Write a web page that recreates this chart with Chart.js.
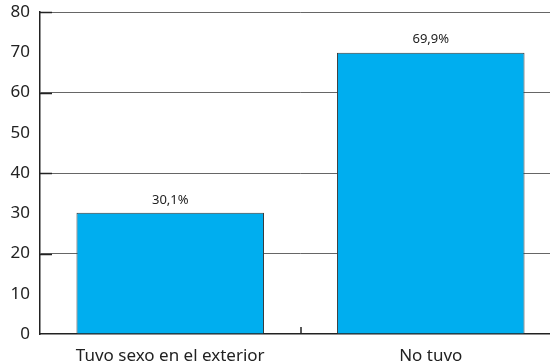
<!DOCTYPE html>
<html>
<head>
<meta charset="utf-8">
<script src="https://cdn.jsdelivr.net/npm/chart.js@4/dist/chart.umd.min.js"></script>
<style>
  html, body { margin: 0; padding: 0; background: #fff; overflow: hidden; }
  #wrap { width: 562px; height: 363px; }
</style>
</head>
<body>
<div id="wrap"><canvas id="chart" width="562" height="363"></canvas></div>
<script>
const categories = ['Tuvo sexo en el exterior', 'No tuvo'];
const values = [30.1, 69.9];
const valueLabels = ['30,1%', '69,9%'];

const FONT = '"Noto Sans", "DejaVu Sans", sans-serif';

// etiquetas encima de las barras + marcas del eje
const extras = {
  id: 'extras',
  afterDatasetsDraw(chart) {
    const { ctx, chartArea, scales } = chart;
    const meta = chart.getDatasetMeta(0);
    ctx.save();
    ctx.fillStyle = '#222';
    ctx.font = '13px ' + FONT;
    ctx.textAlign = 'center';
    ctx.textBaseline = 'middle';
    meta.data.forEach((bar, i) => {
      ctx.fillText(valueLabels[i], bar.x, bar.y - 13);
    });
    // marcas cortas hacia dentro en el eje y
    ctx.strokeStyle = '#222';
    ctx.lineWidth = 1.5;
    for (let v = 20; v <= 80; v += 20) {
      const y = Math.round(scales.y.getPixelForValue(v)) + 0.5;
      ctx.beginPath();
      ctx.moveTo(chartArea.left, y);
      ctx.lineTo(chartArea.left + 12, y);
      ctx.stroke();
    }
    // marca entre categorias
    const mx = Math.round((scales.x.getPixelForValue(0) + scales.x.getPixelForValue(1)) / 2);
    ctx.beginPath();
    ctx.moveTo(mx, chartArea.bottom);
    ctx.lineTo(mx, chartArea.bottom - 7);
    ctx.stroke();
    ctx.restore();
  }
};

new Chart(document.getElementById('chart'), {
  type: 'bar',
  data: {
    labels: categories,
    datasets: [{
      data: values,
      backgroundColor: '#00AEEF',
      borderColor: '#3a3a3a',
      borderWidth: 1,
      barPercentage: 0.72,
      categoryPercentage: 1
    }]
  },
  options: {
    responsive: false,
    animation: false,
    devicePixelRatio: 1,
    layout: { padding: { top: 12, right: 1, left: 0, bottom: 0 } },
    plugins: { legend: { display: false }, tooltip: { enabled: false } },
    scales: {
      x: {
        afterFit(s) { s.height = 29; s.paddingLeft = 0; s.paddingRight = 0; },
        grid: { display: false },
        border: { display: true, color: '#222', width: 1.5 },
        ticks: { color: '#222', font: { family: FONT, size: 17 }, padding: 4, maxRotation: 0 }
      },
      y: {
        min: 0,
        max: 80,
        afterFit(s) { s.width = 40; s.paddingTop = 0; s.paddingBottom = 0; },
        grid: {
          drawTicks: false,
          color: (c) => (c.tick && c.tick.value % 20 === 0 && c.tick.value > 0) ? '#666' : 'transparent',
          lineWidth: 1
        },
        border: { display: true, color: '#222', width: 1.5 },
        ticks: { stepSize: 10, color: '#222', font: { family: FONT, size: 17 }, padding: 10 }
      }
    }
  },
  plugins: [extras]
});
</script>
</body>
</html>
